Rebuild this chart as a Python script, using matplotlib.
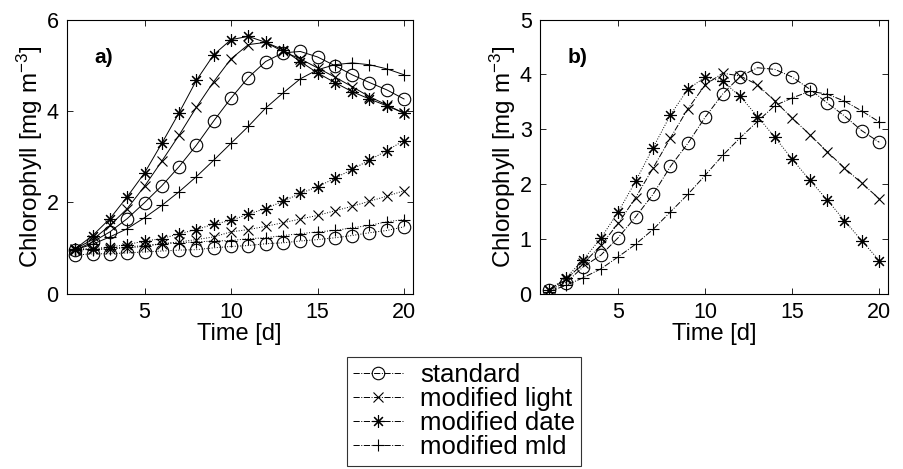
import numpy as np
import matplotlib
matplotlib.use("Agg")
import matplotlib.pyplot as plt

plt.rcParams['font.family'] = ['Liberation Sans', 'DejaVu Sans']
plt.rcParams['mathtext.default'] = 'regular'
plt.rcParams['font.size'] = 16

days = list(range(1, 21))

# panel a) - solid runs
a_std = [0.95, 1.13, 1.35, 1.64, 1.99, 2.36, 2.78, 3.25, 3.78, 4.28,
         4.73, 5.08, 5.27, 5.30, 5.18, 4.99, 4.79, 4.62, 4.46, 4.26]
a_light = [0.98, 1.18, 1.49, 1.86, 2.35, 2.90, 3.47, 4.08, 4.64, 5.14,
           5.45, 5.50, 5.30, 5.14, 4.94, 4.74, 4.53, 4.31, 4.13, 3.95]
a_date = [0.98, 1.27, 1.64, 2.12, 2.64, 3.29, 3.96, 4.67, 5.23, 5.56,
          5.63, 5.50, 5.34, 5.08, 4.83, 4.62, 4.42, 4.26, 4.11, 3.95]
a_mld = [0.96, 1.08, 1.24, 1.42, 1.66, 1.93, 2.23, 2.56, 2.92, 3.29,
         3.66, 4.06, 4.39, 4.70, 4.90, 5.01, 5.05, 5.01, 4.92, 4.79]

# panel a) - dotted runs
a_std_dot = [0.84, 0.87, 0.87, 0.89, 0.91, 0.93, 0.95, 0.96, 1.00, 1.03,
             1.05, 1.09, 1.11, 1.15, 1.18, 1.22, 1.27, 1.33, 1.38, 1.46]
a_light_dot = [0.96, 0.97, 0.98, 1.00, 1.03, 1.09, 1.13, 1.18, 1.24, 1.35,
               1.40, 1.47, 1.55, 1.63, 1.71, 1.81, 1.91, 2.02, 2.13, 2.25]
a_date_dot = [0.98, 0.98, 1.02, 1.07, 1.15, 1.20, 1.31, 1.40, 1.52, 1.60,
              1.74, 1.86, 2.02, 2.19, 2.34, 2.52, 2.72, 2.92, 3.13, 3.35]
a_mld_dot = [0.96, 0.96, 0.98, 1.02, 1.05, 1.09, 1.11, 1.13, 1.15, 1.16,
             1.20, 1.22, 1.27, 1.31, 1.35, 1.38, 1.44, 1.49, 1.57, 1.62]

# panel b)
b_std = [0.06, 0.20, 0.49, 0.70, 1.02, 1.40, 1.81, 2.32, 2.74, 3.22,
         3.64, 3.96, 4.12, 4.09, 3.95, 3.73, 3.48, 3.24, 2.97, 2.76]
b_light = [0.06, 0.26, 0.55, 0.88, 1.28, 1.75, 2.29, 2.84, 3.37, 3.81,
           4.02, 3.97, 3.81, 3.51, 3.20, 2.90, 2.59, 2.29, 2.01, 1.73]
b_date = [0.06, 0.29, 0.62, 1.01, 1.49, 2.05, 2.66, 3.26, 3.73, 3.95,
          3.87, 3.60, 3.23, 2.85, 2.45, 2.07, 1.71, 1.33, 0.96, 0.60]
b_mld = [0.03, 0.15, 0.29, 0.45, 0.67, 0.90, 1.17, 1.49, 1.81, 2.16,
         2.52, 2.84, 3.14, 3.43, 3.57, 3.69, 3.64, 3.51, 3.33, 3.13]

labels = ['standard', 'modified light', 'modified date', 'modified mld']

star = (8, 2, 0)  # matlab style asterisk
mk = {'o': dict(marker='o', ms=9, mfc='none'),
      'x': dict(marker='x', ms=7),
      '*': dict(marker=star, ms=9),
      '+': dict(marker='+', ms=9)}

lw = 0.7
fig = plt.figure(figsize=(9.04, 4.69), dpi=100)
ax1 = fig.add_axes([0.0738, 0.3742, 0.3827, 0.5842])
ax2 = fig.add_axes([0.5973, 0.3742, 0.385, 0.5842])

for y, m in zip([a_std, a_light, a_date, a_mld], ['o', 'x', '*', '+']):
    ax1.plot(days, y, '-', color='k', lw=lw, mec='k', mew=0.8, **mk[m])
for y, m in zip([a_std_dot, a_light_dot, a_date_dot, a_mld_dot], ['o', 'x', '*', '+']):
    ax1.plot(days, y, ':', color='k', lw=lw, mec='k', mew=0.8, **mk[m])

handles = []
for y, m, ls, lab in zip([b_std, b_light, b_date, b_mld], ['o', 'x', '*', '+'],
                         ['-.', '-.', ':', '-.'], labels):
    ax2.plot(days, y, ls, color='k', lw=lw, mec='k', mew=0.8, **mk[m])
    h, = plt.plot([], [], '-.', color='k', lw=lw, mec='k', mew=0.8, **mk[m])
    handles.append(h)

for ax, ymax, tag in [(ax1, 6, 'a)'), (ax2, 5, 'b)')]:
    ax.set_xlim(0.5, 20.5)
    ax.set_ylim(0, ymax)
    ax.set_xticks([5, 10, 15, 20])
    ax.set_yticks(range(0, ymax + 1, 1 if ymax == 5 else 2))
    ax.tick_params(direction='in', top=True, right=True, length=4, width=0.6,
                   labelsize=15.5, pad=6)
    for s in ax.spines.values():
        s.set_linewidth(0.8)
    ax.set_xlabel('Time [d]', fontsize=17, labelpad=0)
    ax.set_ylabel('Chlorophyll [mg m$^{-3}$]', fontsize=17.5, labelpad=1)
    ax.text(0.08, 0.86, tag, transform=ax.transAxes, fontsize=15, fontweight='bold', va='center')

leg = fig.legend(handles, labels, loc='upper left', bbox_to_anchor=(0.3835, 1 - 357 / 469),
                 fontsize=18.5, frameon=True, fancybox=False, handlelength=1.95,
                 handletextpad=0.65, borderpad=0.25, labelspacing=0.0, borderaxespad=0)
leg.get_frame().set_edgecolor('k')
leg.get_frame().set_linewidth(0.8)

fig.savefig('out.png', dpi=100)
